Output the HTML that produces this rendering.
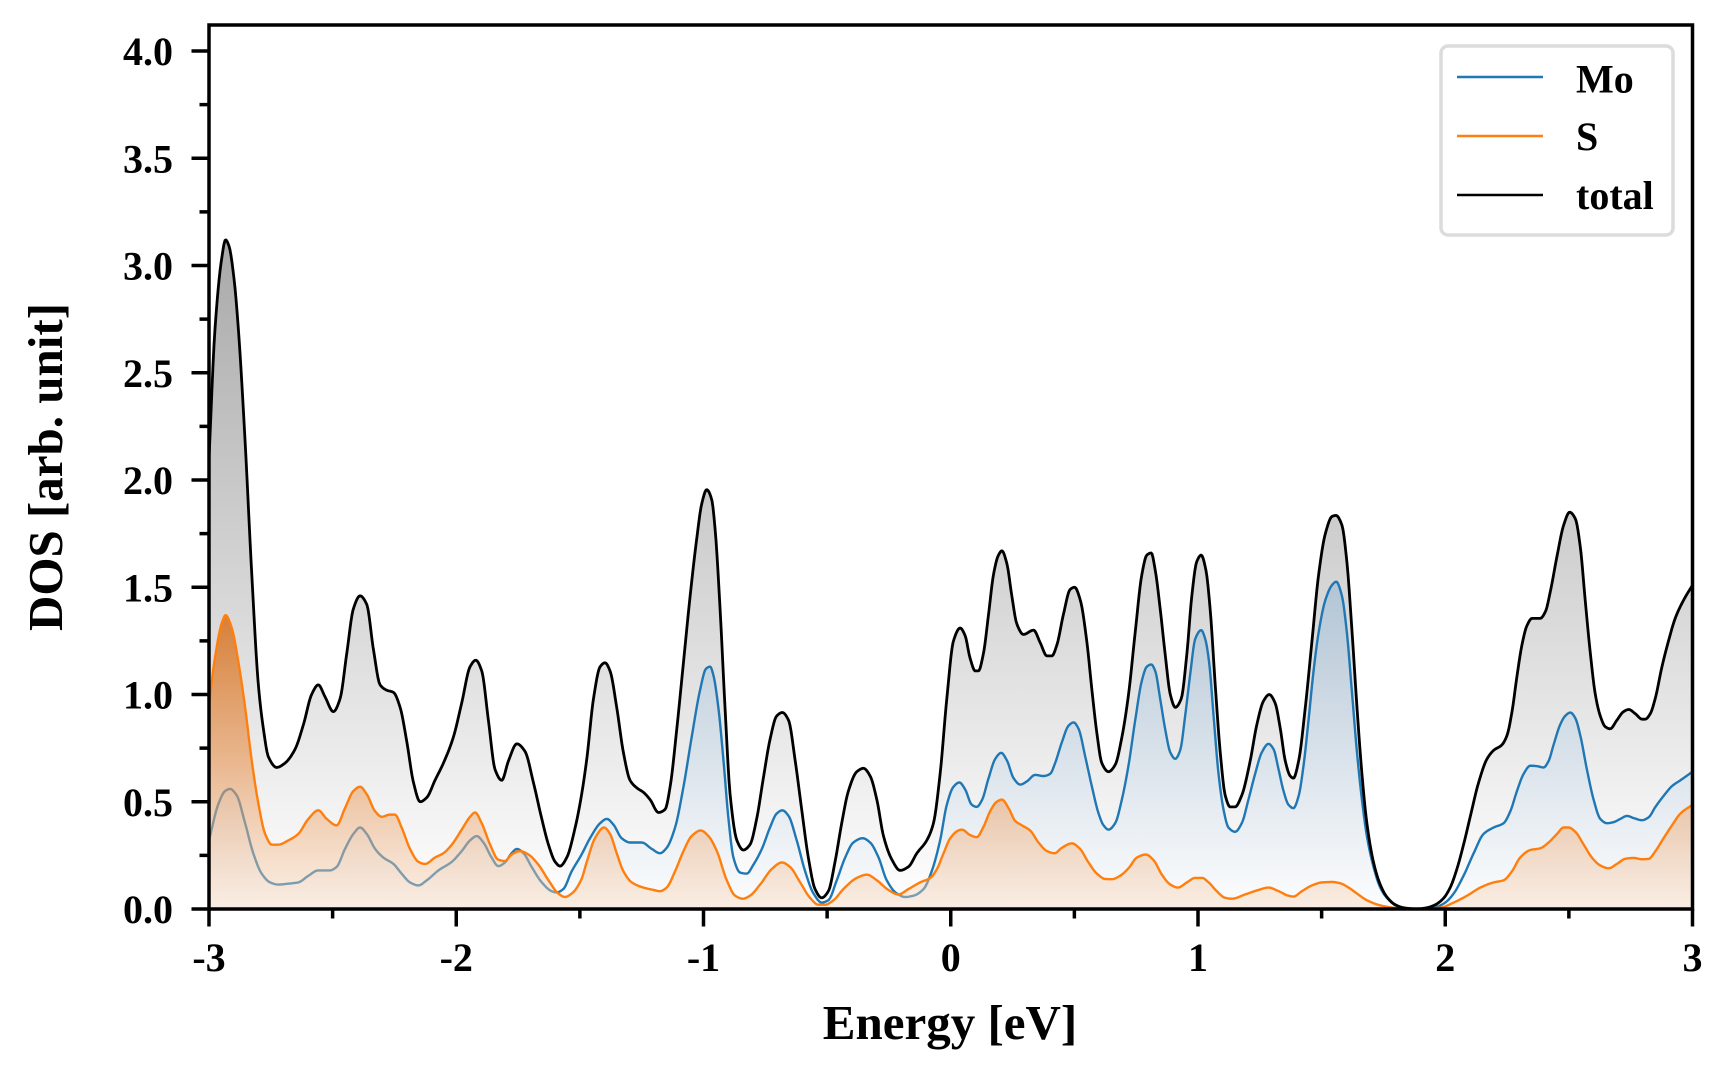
<!DOCTYPE html>
<html>
<head>
<meta charset="utf-8">
<style>
  html,body{margin:0;padding:0;background:#fff;}
  svg{display:block;}
  text{font-family:"Liberation Serif","Times New Roman",serif;font-weight:bold;fill:#000;}
</style>
</head>
<body>
<svg id="chart" width="1728" height="1080" viewBox="0 0 1728 1080" xmlns="http://www.w3.org/2000/svg">
  <defs>
    <clipPath id="ax"><rect x="209" y="25" width="1483.5" height="884"/></clipPath>
    <linearGradient id="gGrey" gradientUnits="userSpaceOnUse" x1="0" y1="240" x2="0" y2="909">
      <stop offset="0" stop-color="#a9a9a9"/>
      <stop offset="1" stop-color="#ffffff"/>
    </linearGradient>
    <linearGradient id="gBlue" gradientUnits="userSpaceOnUse" x1="0" y1="581" x2="0" y2="909">
      <stop offset="0" stop-color="rgb(178,196,212)"/>
      <stop offset="1" stop-color="rgb(252,253,254)"/>
    </linearGradient>
    <linearGradient id="gOrange" gradientUnits="userSpaceOnUse" x1="0" y1="615" x2="0" y2="909">
      <stop offset="0" stop-color="#d6782a" stop-opacity="0.92"/>
      <stop offset="0.5" stop-color="rgb(232,150,85)" stop-opacity="0.62"/>
      <stop offset="1" stop-color="rgb(248,215,188)" stop-opacity="0.4"/>
    </linearGradient>
  </defs>

  <g clip-path="url(#ax)">
    <path id="fillT" fill="url(#gGrey)" stroke="none" d=""/>
    <path id="fillM" fill="url(#gBlue)" stroke="none" d=""/>
    <path id="lineM" fill="none" stroke="#1f77b4" stroke-width="2.4" stroke-linejoin="round" d=""/>
    <path id="fillS" fill="url(#gOrange)" stroke="none" d=""/>
    <path id="lineS" fill="none" stroke="#ff7f0e" stroke-width="2.4" stroke-linejoin="round" d=""/>
    <path id="lineT" fill="none" stroke="#000" stroke-width="2.8" stroke-linejoin="round" d=""/>
  </g>

  <rect x="209" y="25" width="1483.5" height="884" fill="none" stroke="#000" stroke-width="3.5"/>

  <g id="ticks" stroke="#000" stroke-width="3.5"></g>

  <g font-size="40" text-anchor="end">
    <text x="173" y="923">0.0</text>
    <text x="173" y="815.75">0.5</text>
    <text x="173" y="708.5">1.0</text>
    <text x="173" y="601.25">1.5</text>
    <text x="173" y="494">2.0</text>
    <text x="173" y="386.75">2.5</text>
    <text x="173" y="279.5">3.0</text>
    <text x="173" y="172.25">3.5</text>
    <text x="173" y="65">4.0</text>
  </g>
  <g font-size="40" text-anchor="middle">
    <text x="209" y="971">-3</text>
    <text x="456.25" y="971">-2</text>
    <text x="703.5" y="971">-1</text>
    <text x="950.75" y="971">0</text>
    <text x="1198" y="971">1</text>
    <text x="1445.25" y="971">2</text>
    <text x="1692.5" y="971">3</text>
  </g>

  <text x="950" y="1039" font-size="49" text-anchor="middle">Energy [eV]</text>
  <text x="62" y="467" font-size="49" text-anchor="middle" transform="rotate(-90 62 467)">DOS [arb. unit]</text>

  <rect x="1441" y="46" width="232" height="189" rx="7" ry="7" fill="#fff" fill-opacity="0.9" stroke="#dcdcdc" stroke-width="3.5"/>
  <line x1="1457" y1="77" x2="1543" y2="77" stroke="#1f77b4" stroke-width="2.6"/>
  <line x1="1457" y1="136" x2="1543" y2="136" stroke="#ff7f0e" stroke-width="2.6"/>
  <line x1="1457" y1="195" x2="1543" y2="195" stroke="#000" stroke-width="2.6"/>
  <g font-size="40">
    <text x="1576" y="92.5">Mo</text>
    <text x="1576" y="150">S</text>
    <text x="1576" y="209">total</text>
  </g>
</svg>

<script>
(function(){
  const X = e => 209 + (e + 3) * 247.25;
  const Y = v => 909 - v * 214.5;

  const total = [[-3,2.1],[-2.976,2.70],[-2.949,3.03],[-2.933,3.12],[-2.919,3.09],[-2.898,2.93],[-2.881,2.70],[-2.854,2.18],[-2.827,1.56],[-2.800,1.04],[-2.780,0.84],[-2.760,0.71],[-2.726,0.66],[-2.693,0.68],[-2.652,0.745],[-2.618,0.86],[-2.585,1.00],[-2.558,1.045],[-2.531,0.99],[-2.497,0.92],[-2.470,0.98],[-2.443,1.19],[-2.416,1.40],[-2.389,1.46],[-2.362,1.42],[-2.335,1.21],[-2.308,1.045],[-2.281,1.02],[-2.254,1.01],[-2.227,0.94],[-2.200,0.78],[-2.173,0.59],[-2.146,0.50],[-2.119,0.52],[-2.086,0.60],[-2.052,0.68],[-2.012,0.80],[-1.978,0.96],[-1.944,1.13],[-1.921,1.16],[-1.897,1.11],[-1.870,0.88],[-1.843,0.65],[-1.816,0.60],[-1.789,0.69],[-1.755,0.77],[-1.722,0.735],[-1.688,0.59],[-1.654,0.42],[-1.627,0.30],[-1.600,0.22],[-1.580,0.20],[-1.553,0.24],[-1.519,0.38],[-1.495,0.52],[-1.472,0.70],[-1.445,0.98],[-1.418,1.13],[-1.398,1.148],[-1.378,1.11],[-1.351,0.94],[-1.324,0.73],[-1.297,0.60],[-1.270,0.565],[-1.243,0.544],[-1.216,0.51],[-1.182,0.45],[-1.155,0.465],[-1.135,0.57],[-1.108,0.84],[-1.081,1.15],[-1.054,1.46],[-1.027,1.73],[-1.007,1.89],[-0.987,1.955],[-0.967,1.91],[-0.953,1.77],[-0.933,1.40],[-0.913,0.94],[-0.892,0.53],[-0.865,0.32],[-0.839,0.275],[-0.812,0.30],[-0.785,0.42],[-0.758,0.61],[-0.731,0.79],[-0.704,0.90],[-0.681,0.916],[-0.656,0.88],[-0.629,0.69],[-0.603,0.465],[-0.576,0.24],[-0.549,0.093],[-0.522,0.052],[-0.495,0.083],[-0.468,0.22],[-0.441,0.40],[-0.414,0.55],[-0.380,0.64],[-0.353,0.656],[-0.326,0.62],[-0.299,0.51],[-0.272,0.34],[-0.238,0.23],[-0.205,0.18],[-0.171,0.197],[-0.137,0.26],[-0.097,0.32],[-0.070,0.40],[-0.043,0.63],[-0.016,0.98],[0.011,1.25],[0.038,1.31],[0.058,1.275],[0.078,1.17],[0.099,1.11],[0.112,1.11],[0.132,1.19],[0.153,1.375],[0.173,1.56],[0.193,1.65],[0.207,1.67],[0.227,1.61],[0.247,1.46],[0.267,1.33],[0.294,1.28],[0.335,1.30],[0.362,1.241],[0.389,1.18],[0.409,1.18],[0.429,1.23],[0.456,1.375],[0.483,1.49],[0.501,1.50],[0.524,1.44],[0.550,1.25],[0.571,1.02],[0.591,0.82],[0.611,0.68],[0.638,0.64],[0.665,0.672],[0.692,0.80],[0.719,1.0],[0.746,1.29],[0.773,1.56],[0.793,1.65],[0.811,1.66],[0.827,1.58],[0.847,1.40],[0.867,1.19],[0.888,1.00],[0.908,0.94],[0.932,0.98],[0.955,1.19],[0.975,1.46],[0.995,1.62],[1.013,1.65],[1.032,1.58],[1.049,1.40],[1.070,1.04],[1.090,0.73],[1.110,0.53],[1.130,0.476],[1.150,0.476],[1.177,0.53],[1.211,0.69],[1.238,0.86],[1.265,0.97],[1.288,1.0],[1.312,0.96],[1.333,0.84],[1.353,0.69],[1.373,0.62],[1.386,0.61],[1.407,0.69],[1.434,0.94],[1.461,1.25],[1.488,1.56],[1.515,1.75],[1.542,1.83],[1.558,1.835],[1.582,1.79],[1.602,1.62],[1.622,1.31],[1.643,0.94],[1.663,0.63],[1.683,0.40],[1.710,0.217],[1.737,0.114],[1.764,0.056],[1.798,0.02],[1.831,0.006],[1.885,0.0],[1.926,0.006],[1.960,0.02],[1.993,0.05],[2.020,0.10],[2.047,0.186],[2.074,0.30],[2.101,0.43],[2.135,0.59],[2.169,0.70],[2.196,0.74],[2.229,0.765],[2.250,0.81],[2.270,0.92],[2.290,1.085],[2.310,1.23],[2.330,1.32],[2.351,1.355],[2.384,1.355],[2.405,1.386],[2.425,1.48],[2.452,1.645],[2.479,1.79],[2.503,1.85],[2.526,1.82],[2.546,1.69],[2.566,1.44],[2.587,1.19],[2.607,1.00],[2.627,0.90],[2.647,0.85],[2.667,0.84],[2.694,0.88],[2.721,0.92],[2.742,0.93],[2.769,0.91],[2.796,0.885],[2.809,0.885],[2.829,0.91],[2.849,0.98],[2.876,1.127],[2.903,1.25],[2.930,1.355],[2.964,1.44],[3.0,1.51]];

  const mo = [[-3,0.32],[-2.962,0.49],[-2.935,0.55],[-2.915,0.56],[-2.888,0.53],[-2.854,0.40],[-2.821,0.26],[-2.787,0.165],[-2.753,0.124],[-2.720,0.114],[-2.679,0.118],[-2.639,0.124],[-2.598,0.155],[-2.558,0.18],[-2.511,0.18],[-2.484,0.196],[-2.450,0.28],[-2.416,0.35],[-2.389,0.38],[-2.362,0.35],[-2.328,0.28],[-2.295,0.24],[-2.254,0.21],[-2.221,0.165],[-2.187,0.124],[-2.153,0.11],[-2.119,0.134],[-2.072,0.18],[-2.018,0.22],[-1.978,0.27],[-1.944,0.32],[-1.917,0.34],[-1.890,0.31],[-1.857,0.24],[-1.830,0.20],[-1.803,0.217],[-1.776,0.26],[-1.755,0.28],[-1.728,0.26],[-1.695,0.196],[-1.654,0.124],[-1.614,0.083],[-1.594,0.077],[-1.567,0.093],[-1.533,0.176],[-1.495,0.25],[-1.459,0.33],[-1.418,0.40],[-1.391,0.42],[-1.364,0.393],[-1.331,0.33],[-1.297,0.31],[-1.250,0.31],[-1.209,0.28],[-1.176,0.26],[-1.149,0.285],[-1.115,0.38],[-1.081,0.57],[-1.048,0.80],[-1.014,1.02],[-0.990,1.12],[-0.973,1.13],[-0.960,1.09],[-0.940,0.94],[-0.919,0.69],[-0.899,0.42],[-0.879,0.24],[-0.852,0.17],[-0.825,0.165],[-0.798,0.207],[-0.764,0.28],[-0.731,0.38],[-0.704,0.445],[-0.681,0.46],[-0.656,0.434],[-0.623,0.32],[-0.589,0.176],[-0.555,0.072],[-0.522,0.03],[-0.495,0.041],[-0.461,0.134],[-0.427,0.24],[-0.394,0.31],[-0.356,0.33],[-0.326,0.31],[-0.292,0.24],[-0.259,0.134],[-0.218,0.072],[-0.185,0.056],[-0.151,0.062],[-0.110,0.093],[-0.077,0.176],[-0.043,0.32],[-0.016,0.486],[0.011,0.57],[0.035,0.59],[0.058,0.558],[0.085,0.486],[0.105,0.476],[0.126,0.507],[0.153,0.61],[0.180,0.70],[0.204,0.728],[0.227,0.693],[0.254,0.61],[0.281,0.58],[0.308,0.595],[0.341,0.625],[0.375,0.62],[0.402,0.63],[0.422,0.68],[0.449,0.776],[0.476,0.854],[0.497,0.87],[0.517,0.84],[0.544,0.71],[0.571,0.57],[0.598,0.445],[0.618,0.39],[0.638,0.37],[0.665,0.40],[0.692,0.51],[0.719,0.67],[0.746,0.88],[0.773,1.065],[0.793,1.13],[0.811,1.14],[0.827,1.11],[0.847,0.98],[0.867,0.84],[0.888,0.73],[0.908,0.70],[0.928,0.74],[0.948,0.90],[0.968,1.09],[0.989,1.26],[1.013,1.30],[1.029,1.26],[1.045,1.15],[1.063,0.90],[1.083,0.63],[1.103,0.465],[1.123,0.38],[1.150,0.36],[1.177,0.40],[1.204,0.51],[1.231,0.63],[1.258,0.73],[1.285,0.77],[1.306,0.744],[1.326,0.65],[1.346,0.55],[1.366,0.486],[1.386,0.47],[1.407,0.527],[1.427,0.67],[1.447,0.88],[1.467,1.106],[1.488,1.29],[1.515,1.44],[1.542,1.51],[1.559,1.526],[1.582,1.46],[1.602,1.29],[1.622,1.02],[1.643,0.73],[1.663,0.51],[1.683,0.34],[1.710,0.196],[1.737,0.10],[1.764,0.052],[1.804,0.014],[1.858,0.0],[1.926,0.0],[1.966,0.01],[2.000,0.03],[2.034,0.072],[2.074,0.155],[2.115,0.26],[2.155,0.35],[2.196,0.38],[2.236,0.40],[2.263,0.455],[2.290,0.55],[2.317,0.63],[2.344,0.668],[2.371,0.666],[2.398,0.66],[2.418,0.69],[2.438,0.765],[2.465,0.86],[2.485,0.90],[2.506,0.916],[2.526,0.89],[2.546,0.81],[2.573,0.65],[2.600,0.51],[2.627,0.42],[2.654,0.40],[2.681,0.405],[2.708,0.42],[2.735,0.434],[2.762,0.424],[2.796,0.414],[2.823,0.428],[2.850,0.476],[2.883,0.527],[2.917,0.573],[2.951,0.60],[3.0,0.64]];

  const s = [[-3,0.96],[-2.976,1.17],[-2.949,1.33],[-2.933,1.37],[-2.908,1.31],[-2.881,1.15],[-2.854,0.94],[-2.827,0.69],[-2.800,0.49],[-2.773,0.35],[-2.746,0.30],[-2.720,0.30],[-2.679,0.32],[-2.639,0.35],[-2.598,0.42],[-2.558,0.46],[-2.524,0.42],[-2.484,0.39],[-2.450,0.47],[-2.416,0.55],[-2.389,0.57],[-2.362,0.535],[-2.328,0.455],[-2.301,0.43],[-2.268,0.44],[-2.248,0.44],[-2.221,0.38],[-2.187,0.28],[-2.153,0.22],[-2.126,0.21],[-2.086,0.24],[-2.052,0.26],[-2.018,0.30],[-1.978,0.37],[-1.944,0.43],[-1.924,0.45],[-1.897,0.40],[-1.863,0.30],[-1.830,0.23],[-1.803,0.224],[-1.776,0.254],[-1.742,0.27],[-1.708,0.254],[-1.668,0.207],[-1.627,0.134],[-1.587,0.072],[-1.560,0.056],[-1.533,0.072],[-1.495,0.135],[-1.472,0.22],[-1.439,0.33],[-1.402,0.38],[-1.378,0.35],[-1.351,0.26],[-1.324,0.176],[-1.290,0.124],[-1.243,0.10],[-1.203,0.089],[-1.176,0.083],[-1.149,0.10],[-1.115,0.176],[-1.081,0.27],[-1.048,0.34],[-1.011,0.366],[-0.980,0.34],[-0.946,0.27],[-0.906,0.134],[-0.872,0.062],[-0.841,0.048],[-0.812,0.062],[-0.771,0.114],[-0.724,0.186],[-0.683,0.217],[-0.650,0.196],[-0.609,0.124],[-0.569,0.052],[-0.535,0.02],[-0.508,0.02],[-0.474,0.041],[-0.434,0.093],[-0.380,0.145],[-0.339,0.16],[-0.299,0.134],[-0.252,0.089],[-0.212,0.068],[-0.171,0.093],[-0.124,0.124],[-0.083,0.145],[-0.056,0.186],[-0.029,0.26],[-0.002,0.33],[0.031,0.366],[0.045,0.37],[0.078,0.345],[0.105,0.335],[0.132,0.382],[0.159,0.455],[0.186,0.50],[0.207,0.51],[0.234,0.47],[0.261,0.41],[0.288,0.39],[0.321,0.366],[0.355,0.31],[0.389,0.27],[0.420,0.26],[0.449,0.285],[0.490,0.306],[0.523,0.28],[0.557,0.217],[0.591,0.165],[0.625,0.14],[0.652,0.139],[0.685,0.155],[0.719,0.19],[0.753,0.24],[0.789,0.254],[0.820,0.228],[0.854,0.16],[0.888,0.114],[0.919,0.10],[0.955,0.124],[0.989,0.145],[1.016,0.145],[1.043,0.124],[1.076,0.083],[1.110,0.052],[1.137,0.048],[1.191,0.068],[1.245,0.089],[1.285,0.10],[1.326,0.083],[1.366,0.062],[1.386,0.058],[1.420,0.083],[1.461,0.11],[1.501,0.124],[1.542,0.126],[1.575,0.12],[1.609,0.10],[1.643,0.072],[1.683,0.041],[1.737,0.017],[1.804,0.004],[1.872,0.0],[1.980,0.006],[2.034,0.03],[2.088,0.062],[2.142,0.10],[2.196,0.124],[2.236,0.134],[2.270,0.176],[2.303,0.24],[2.344,0.275],[2.384,0.283],[2.418,0.31],[2.452,0.35],[2.479,0.38],[2.499,0.38],[2.526,0.36],[2.560,0.30],[2.593,0.24],[2.627,0.203],[2.661,0.19],[2.694,0.21],[2.728,0.234],[2.762,0.238],[2.796,0.232],[2.823,0.234],[2.850,0.27],[2.883,0.33],[2.917,0.39],[2.951,0.445],[3.0,0.486]];

  function interp(pts){
    const n = pts.length, xs = pts.map(p=>p[0]), ys = pts.map(p=>p[1]);
    const d = [], m = new Array(n);
    for (let i=0;i<n-1;i++) d.push((ys[i+1]-ys[i])/(xs[i+1]-xs[i]));
    m[0]=d[0]; m[n-1]=d[n-2];
    for (let i=1;i<n-1;i++){
      if (d[i-1]*d[i] <= 0) m[i]=0;
      else {
        const w1 = 2*(xs[i+1]-xs[i]) + (xs[i]-xs[i-1]);
        const w2 = (xs[i+1]-xs[i]) + 2*(xs[i]-xs[i-1]);
        m[i] = (w1+w2)/(w1/d[i-1] + w2/d[i]);
      }
    }
    return function(x){
      if (x<=xs[0]) return ys[0];
      if (x>=xs[n-1]) return ys[n-1];
      let lo=0, hi=n-1;
      while (hi-lo>1){ const mid=(lo+hi)>>1; if (xs[mid]<=x) lo=mid; else hi=mid; }
      const i=lo;
      const h = xs[i+1]-xs[i], t=(x-xs[i])/h;
      const t2=t*t, t3=t2*t;
      return (2*t3-3*t2+1)*ys[i] + (t3-2*t2+t)*h*m[i] + (-2*t3+3*t2)*ys[i+1] + (t3-t2)*h*m[i+1];
    };
  }

  function build(pts){
    const f = interp(pts);
    const out = [];
    const x0 = X(-3), x1 = X(3);
    for (let px = x0; px <= x1 + 0.001; px += 1){
      const e = -3 + (px - 209)/247.25;
      out.push([px, Y(Math.max(0, f(e)))]);
    }
    const last = out[out.length-1];
    if (last[0] < x1) out.push([x1, Y(Math.max(0, f(3)))]);
    const line = 'M' + out.map(p=>p[0].toFixed(2)+','+p[1].toFixed(2)).join(' L');
    const fill = line + ' L' + x1.toFixed(2) + ',' + Y(0) + ' L' + x0.toFixed(2) + ',' + Y(0) + ' Z';
    return {line, fill};
  }

  const T = build(total), M = build(mo), S = build(s);
  document.getElementById('fillT').setAttribute('d', T.fill);
  document.getElementById('lineT').setAttribute('d', T.line);
  document.getElementById('fillM').setAttribute('d', M.fill);
  document.getElementById('lineM').setAttribute('d', M.line);
  document.getElementById('fillS').setAttribute('d', S.fill);
  document.getElementById('lineS').setAttribute('d', S.line);

  const g = document.getElementById('ticks');
  const NS = 'http://www.w3.org/2000/svg';
  function ln(x1,y1,x2,y2){
    const l = document.createElementNS(NS,'line');
    l.setAttribute('x1',x1); l.setAttribute('y1',y1);
    l.setAttribute('x2',x2); l.setAttribute('y2',y2);
    g.appendChild(l);
  }
  for (let k=0;k<=16;k++){
    const v = k*0.25, y = Y(v);
    if (k%2===0) ln(191.5, y, 209, y); else ln(199.5, y, 209, y);
  }
  for (let k=0;k<=12;k++){
    const e = -3 + k*0.5, x = X(e);
    if (k%2===0) ln(x, 909, x, 926.5); else ln(x, 909, x, 918.5);
  }
})();
</script>
</body>
</html>
